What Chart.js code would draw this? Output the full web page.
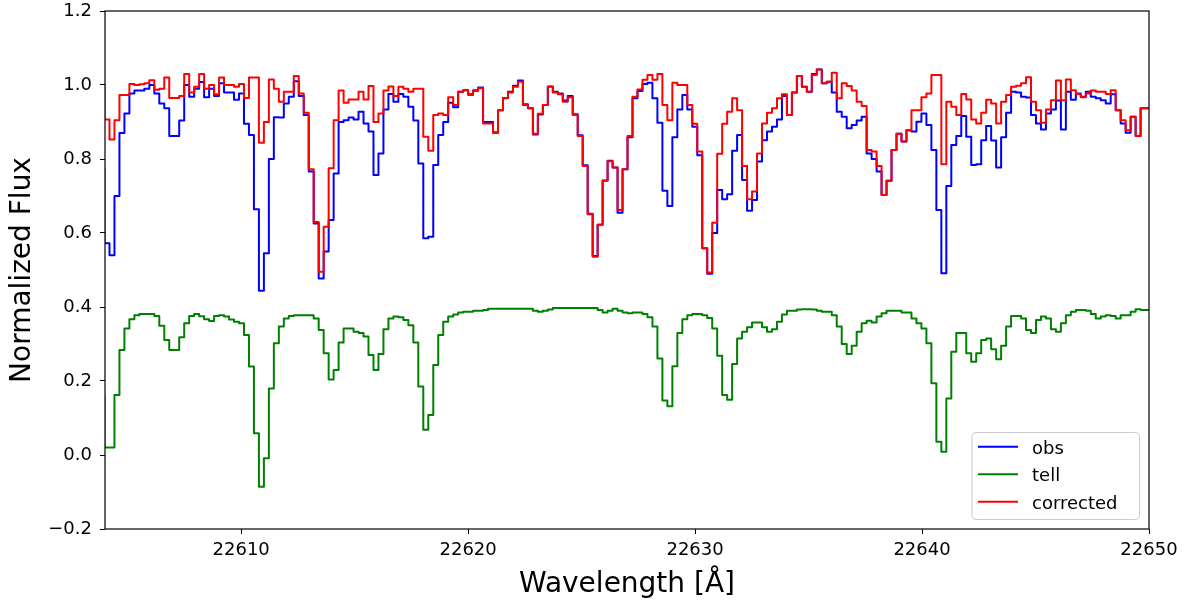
<!DOCTYPE html>
<html>
<head>
<meta charset="utf-8">
<script src="https://cdn.jsdelivr.net/npm/chart.js@4.4.1/dist/chart.umd.min.js"></script>
<style>
  html, body { margin: 0; padding: 0; background: #ffffff; }
  #wrap { width: 1189px; height: 603px; position: relative; }
</style>
</head>
<body>
<div id="wrap"><canvas id="spec" width="1189" height="603"></canvas></div>
<script>
// Detector pixel grid: first pixel centre and spacing in Angstrom
const WAVE_START = 22603.868;
const WAVE_STEP = 0.21948;

// Observed spectrum (normalized)
const obsFlux = [
  0.775,0.572,0.54,0.70,0.87,0.923,0.977,0.985,0.985,0.99,1.0,
  0.977,0.95,0.937,0.862,0.862,0.904,1.0,0.968,0.99,1.008,
  0.967,0.99,0.97,1.005,0.98,0.98,0.96,0.977,0.895,0.865,
  0.664,0.444,0.545,0.80,0.913,0.912,0.95,0.968,1.01,0.97,
  0.919,0.766,0.626,0.477,0.55,0.635,0.761,0.9,0.905,0.912,
  0.907,0.928,0.896,0.874,0.757,0.815,0.934,0.976,0.955,0.976,
  0.968,0.941,0.904,0.788,0.586,0.59,0.784,0.865,0.9,0.952,
  0.94,0.982,0.986,0.975,0.986,0.993,0.9,0.9,0.872,0.932,
  0.965,0.982,0.998,1.012,0.948,0.937,0.866,0.92,0.946,0.996,
  0.982,0.977,0.958,0.97,0.921,0.864,0.783,0.652,0.538,0.622,
  0.742,0.795,0.777,0.655,0.772,0.859,0.964,0.984,1.003,1.006,
  0.964,0.898,0.714,0.673,0.859,0.934,0.973,0.934,0.887,0.81,
  0.559,0.49,0.6,0.716,0.691,0.705,0.822,0.865,0.743,0.66,
  0.689,0.793,0.851,0.874,0.887,0.907,0.97,0.919,0.98,1.024,
  0.995,0.982,1.03,1.042,1.005,1.009,0.98,0.928,0.914,0.883,
  0.892,0.904,0.914,0.815,0.8,0.766,0.703,0.741,0.824,0.868,
  0.847,0.878,0.874,0.901,0.923,0.892,0.824,0.662,0.491,0.727,
  0.838,0.862,0.916,0.86,0.784,0.786,0.851,0.889,0.85,0.777,
  0.859,0.925,0.982,0.98,0.968,0.966,0.919,0.896,0.88,0.923,
  0.934,0.958,0.88,0.982,0.96,0.977,0.968,0.982,0.968,0.964,
  0.959,0.95,0.975,0.932,0.896,0.871,0.914,0.862,0.937,0.937,0.937
];

// Telluric model, offset for display
const tellFlux = [
  0.16,0.02,0.02,0.162,0.284,0.342,0.367,0.378,0.381,0.381,0.381,
  0.376,0.349,0.311,0.284,0.284,0.318,0.356,0.376,0.381,0.375,
  0.367,0.362,0.376,0.378,0.374,0.366,0.36,0.356,0.324,0.239,
  0.059,-0.086,-0.009,0.18,0.302,0.347,0.369,0.376,0.378,0.378,
  0.378,0.378,0.369,0.338,0.275,0.204,0.23,0.304,0.342,0.342,
  0.333,0.33,0.32,0.27,0.23,0.273,0.34,0.369,0.374,0.372,
  0.365,0.351,0.304,0.185,0.068,0.108,0.243,0.324,0.36,0.374,
  0.38,0.385,0.387,0.387,0.39,0.39,0.392,0.395,0.395,0.395,
  0.395,0.395,0.395,0.395,0.395,0.395,0.39,0.387,0.39,0.393,
  0.397,0.397,0.397,0.397,0.397,0.397,0.397,0.397,0.397,0.392,
  0.385,0.39,0.395,0.39,0.385,0.383,0.385,0.385,0.381,0.372,
  0.347,0.261,0.147,0.132,0.24,0.33,0.367,0.378,0.381,0.381,
  0.378,0.37,0.342,0.268,0.162,0.149,0.246,0.315,0.333,0.345,
  0.358,0.358,0.345,0.333,0.34,0.36,0.38,0.39,0.39,0.393,
  0.394,0.394,0.393,0.39,0.387,0.387,0.378,0.347,0.3,0.273,
  0.295,0.333,0.356,0.363,0.358,0.374,0.383,0.39,0.39,0.39,
  0.385,0.385,0.369,0.356,0.342,0.302,0.194,0.036,0.009,0.153,
  0.279,0.33,0.33,0.275,0.252,0.275,0.311,0.315,0.286,0.259,
  0.295,0.347,0.376,0.376,0.369,0.338,0.33,0.365,0.374,0.369,
  0.34,0.333,0.356,0.378,0.387,0.392,0.392,0.39,0.381,0.369,
  0.374,0.378,0.376,0.369,0.378,0.378,0.387,0.394,0.392,0.392,0.392
];

// Telluric-corrected spectrum
const corrFlux = [
  1.0,0.907,0.853,0.905,0.973,0.973,1.003,1.0,1.002,1.005,1.013,
  0.987,0.99,1.02,0.965,0.965,0.97,1.03,0.98,0.995,1.03,
  0.99,1.0,0.975,1.02,1.0,1.0,0.995,1.003,0.965,1.02,
  1.02,0.844,0.9,1.015,0.99,0.955,0.982,0.982,1.024,0.977,
  0.925,0.772,0.63,0.495,0.617,0.775,0.905,0.985,0.952,0.961,
  0.961,0.982,0.961,0.997,0.9,0.923,0.985,0.996,0.97,0.995,
  0.99,0.982,0.99,0.99,0.86,0.822,0.919,0.923,0.919,0.967,
  0.946,0.982,0.986,0.973,0.984,0.991,0.896,0.896,0.87,0.932,
  0.964,0.98,0.995,1.009,0.946,0.937,0.868,0.922,0.946,0.995,
  0.98,0.975,0.955,0.967,0.919,0.862,0.781,0.651,0.536,0.622,
  0.741,0.794,0.777,0.662,0.772,0.862,0.968,0.988,1.014,1.027,
  1.014,1.03,0.946,0.905,1.006,1.0,1.0,0.946,0.895,0.82,
  0.559,0.493,0.628,0.814,0.895,0.928,0.964,0.932,0.781,0.691,
  0.712,0.815,0.896,0.925,0.937,0.964,0.975,0.919,0.98,1.024,
  0.995,0.982,1.027,1.042,1.005,1.009,1.033,0.964,1.005,0.997,
  0.985,0.955,0.943,0.824,0.82,0.781,0.703,0.741,0.824,0.868,
  0.847,0.878,0.932,0.932,0.967,0.977,1.027,1.027,0.786,0.955,
  0.941,0.919,0.976,0.961,0.907,0.896,0.925,0.96,0.95,0.896,
  0.955,0.973,0.995,0.998,1.005,1.021,0.955,0.932,0.898,0.934,
  0.959,1.012,0.959,1.015,0.986,0.976,0.967,0.977,0.985,0.982,
  0.982,0.976,0.986,0.932,0.905,0.878,0.914,0.862,0.937,0.937,0.937
];

const xTicks = [22610, 22620, 22630, 22640, 22650];
const yTicks = [-0.2, 0.0, 0.2, 0.4, 0.6, 0.8, 1.0, 1.2];
const X_MIN = 22604, X_MAX = 22650;
const Y_MIN = -0.2, Y_MAX = 1.2;

const wavelength = obsFlux.map((_, i) => +(WAVE_START + i * WAVE_STEP).toFixed(4));
const toPoints = arr => arr.map((y, i) => ({ x: wavelength[i], y }));

const FONT = "'DejaVu Sans', 'Liberation Sans', sans-serif";
Chart.defaults.font.family = FONT;
Chart.defaults.color = '#000000';

// Full box around the plotting area, drawn above the curves
const framePlugin = {
  id: 'frame',
  afterDatasetsDraw(chart) {
    const { ctx, chartArea: a } = chart;
    ctx.save();
    ctx.strokeStyle = '#000000';
    ctx.lineWidth = 1.2;
    ctx.strokeRect(a.left, a.top, a.right - a.left, a.bottom - a.top);
    ctx.restore();
  }
};

// Framed legend in the lower right corner of the plotting area
const boxLegend = {
  id: 'boxLegend',
  afterDraw(chart) {
    const { ctx } = chart;
    const x = 972, y = 432.5, w = 167.5, h = 87, r = 4;
    ctx.save();
    ctx.beginPath();
    ctx.moveTo(x + r, y);
    ctx.lineTo(x + w - r, y);
    ctx.arcTo(x + w, y, x + w, y + r, r);
    ctx.lineTo(x + w, y + h - r);
    ctx.arcTo(x + w, y + h, x + w - r, y + h, r);
    ctx.lineTo(x + r, y + h);
    ctx.arcTo(x, y + h, x, y + h - r, r);
    ctx.lineTo(x, y + r);
    ctx.arcTo(x, y, x + r, y, r);
    ctx.closePath();
    ctx.fillStyle = 'rgba(255,255,255,0.8)';
    ctx.fill();
    ctx.strokeStyle = '#cccccc';
    ctx.lineWidth = 1;
    ctx.stroke();

    const rows = [446.7, 474.2, 501.7];
    chart.data.datasets.forEach((ds, i) => {
      const ry = rows[i];
      ctx.beginPath();
      ctx.moveTo(978, ry);
      ctx.lineTo(1018, ry);
      ctx.strokeStyle = ds.borderColor;
      ctx.lineWidth = 2;
      ctx.stroke();
      ctx.fillStyle = '#000000';
      ctx.font = '18px ' + FONT;
      ctx.textAlign = 'left';
      ctx.textBaseline = 'alphabetic';
      ctx.fillText(ds.label, 1032, ry + 7.2);
    });
    ctx.restore();
  }
};

const lineStyle = {
  borderWidth: 2,
  stepped: 'middle',
  pointRadius: 0,
  pointHoverRadius: 0,
  fill: false,
  tension: 0,
  borderJoinStyle: 'round',
  clip: 0
};

new Chart(document.getElementById('spec'), {
  type: 'line',
  data: {
    datasets: [
      Object.assign({ label: 'obs', data: toPoints(obsFlux), borderColor: '#0000ff', order: 3 }, lineStyle),
      Object.assign({ label: 'tell', data: toPoints(tellFlux), borderColor: '#008000', order: 2 }, lineStyle),
      Object.assign({ label: 'corrected', data: toPoints(corrFlux), borderColor: '#ff0000', order: 1 }, lineStyle)
    ]
  },
  options: {
    responsive: false,
    devicePixelRatio: 1,
    animation: false,
    events: [],
    layout: { padding: { top: 11, right: 40, bottom: 0, left: 0 } },
    plugins: {
      legend: { display: false },
      tooltip: { enabled: false }
    },
    scales: {
      x: {
        type: 'linear',
        min: X_MIN,
        max: X_MAX,
        afterBuildTicks: s => { s.ticks = xTicks.map(v => ({ value: v })); },
        afterFit: s => {
          s.height = 74;
          s.paddingLeft = 0;
          s.paddingRight = 0;
        },
        ticks: {
          autoSkip: false,
          maxRotation: 0,
          padding: 6,
          font: { size: 18 },
          color: '#000000',
          callback: v => String(v)
        },
        grid: {
          drawOnChartArea: false,
          drawTicks: true,
          tickLength: 5,
          tickColor: '#000000',
          tickWidth: 1
        },
        border: { display: false },
        title: {
          display: true,
          text: 'Wavelength [Å]',
          font: { size: 28 },
          color: '#000000',
          padding: { top: 0, bottom: 1 }
        }
      },
      y: {
        type: 'linear',
        min: Y_MIN,
        max: Y_MAX,
        afterBuildTicks: s => { s.ticks = yTicks.map(v => ({ value: v })); },
        afterFit: s => {
          s.width = 105;
          s.paddingTop = 0;
          s.paddingBottom = 0;
        },
        ticks: {
          padding: 8,
          font: { size: 18 },
          color: '#000000',
          callback: v => (Math.round(v * 10) / 10).toFixed(1).replace('-', '\u2212')
        },
        grid: {
          drawOnChartArea: false,
          drawTicks: true,
          tickLength: 5,
          tickColor: '#000000',
          tickWidth: 1
        },
        border: { display: false },
        title: {
          display: true,
          text: 'Normalized Flux',
          font: { size: 28 },
          color: '#000000',
          padding: { top: 6, bottom: 0 }
        }
      }
    }
  },
  plugins: [framePlugin, boxLegend]
});
</script>
</body>
</html>
